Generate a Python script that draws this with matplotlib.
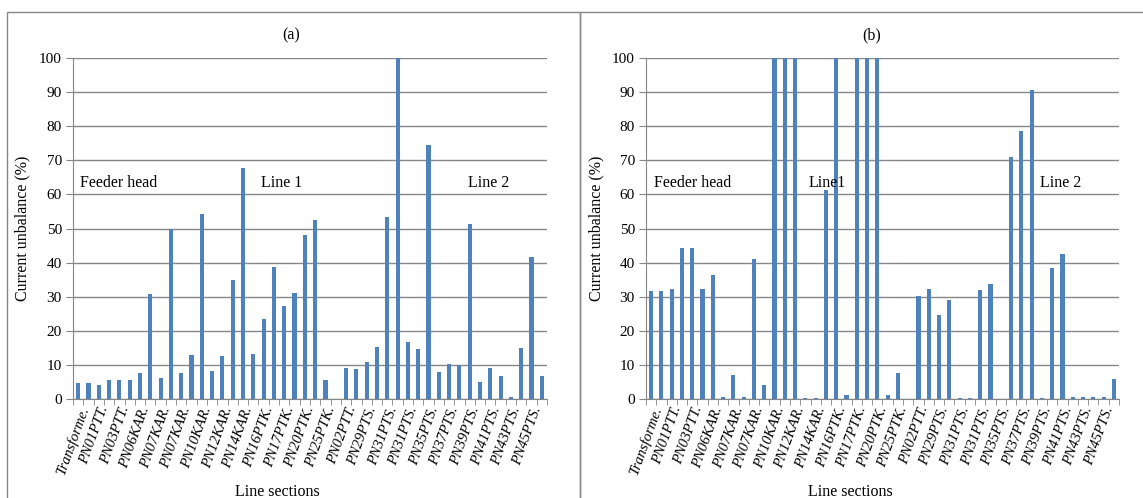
import matplotlib
matplotlib.use('Agg')
import matplotlib.pyplot as plt
from matplotlib.patches import Rectangle
import numpy as np

plt.rcParams['font.family'] = ['Liberation Serif', 'DejaVu Serif']

# shown tick labels (every second line section)
sections = ['Transforme.', 'PN01PTT.', 'PN03PTT.', 'PN06KAR.', 'PN07KAR.', 'PN07KAR.',
            'PN10KAR.', 'PN12KAR.', 'PN14KAR.', 'PN16PTK.', 'PN17PTK.', 'PN20PTK.',
            'PN25PTK.', 'PN02PTT.', 'PN29PTS.', 'PN31PTS.', 'PN31PTS.', 'PN35PTS.',
            'PN37PTS.', 'PN39PTS.', 'PN41PTS.', 'PN43PTS.', 'PN45PTS.']

# current unbalance (%) per line section, case (a)
unbalance_a = [4.6, 4.6, 4.1, 5.7, 5.7, 5.7, 7.5, 30.7, 6.2, 49.8,
               7.5, 13.0, 54.2, 8.3, 12.7, 34.8, 67.7, 13.3, 23.4, 38.7,
               27.3, 31.0, 48.0, 52.4, 5.7, 0.0, 9.2, 8.9, 10.8, 15.3,
               53.3, 100.0, 16.7, 14.8, 74.4, 7.8, 10.4, 10.0, 51.3, 5.1,
               9.2, 6.7, 0.7, 15.1, 41.5, 6.7]

# case (b)
unbalance_b = [31.7, 31.7, 32.4, 44.4, 44.4, 32.4, 36.3, 0.5, 6.9, 0.5,
               41.0, 4.0, 100.0, 100.0, 100.0, 0.2, 0.2, 61.4, 100.0, 1.3,
               100.0, 100.0, 100.0, 1.3, 7.5, 0.0, 30.1, 32.2, 24.5, 28.9,
               0.3, 0.3, 31.9, 33.7, 0.1, 71.1, 78.6, 90.6, 0.3, 38.3,
               42.5, 0.5, 0.5, 0.5, 0.5, 5.9]

panels = [
    ('(a)', unbalance_a, ['Feeder head', 'Line 1', 'Line 2']),
    ('(b)', unbalance_b, ['Feeder head', 'Line1', 'Line 2']),
]

W, H = 1143, 498
fig = plt.figure(figsize=(W / 100, H / 100), dpi=100)

# chart frames
fig.patches.append(Rectangle((7 / W, -0.1), (580 - 7) / W, 1.1 - 12 / H,
                             transform=fig.transFigure, fill=False,
                             edgecolor='#868686', linewidth=1.0))
fig.patches.append(Rectangle((580 / W, -0.1), 0.6, 1.1 - 12 / H,
                             transform=fig.transFigure, fill=False,
                             edgecolor='#868686', linewidth=1.0))

axes_left = [73, 646]
axes_right = [547, 1119]
text_pos = [[(80, 183), (261, 183), (468, 183)],
            [(654, 183), (809, 183), (1040, 183)]]
title_x = [291, 872]
xlabel_x = [277, 850]
ylabel_x = [22, 596]

for k, (title, vals, notes) in enumerate(panels):
    ax = fig.add_axes([axes_left[k] / W, 1 - 399 / H,
                       (axes_right[k] - axes_left[k]) / W, (399 - 58) / H])
    x = np.arange(len(vals))
    ax.bar(x, vals, width=0.4, color='#4F81BD', zorder=3)
    ax.set_xlim(-0.5, len(vals) - 0.5)
    ax.set_ylim(0, 100)
    ax.set_yticks(np.arange(0, 101, 10))
    ax.grid(axis='y', color='#868686', linewidth=1.0, zorder=0)
    for s in ['top', 'right']:
        ax.spines[s].set_visible(False)
    ax.spines['left'].set_color('#868686')
    ax.spines['bottom'].set_color('#868686')
    ax.tick_params(axis='y', length=5, color='#868686', labelsize=11, pad=3)
    ax.set_xticks(x[::2])
    ax.set_xticklabels(sections, rotation=70, ha='right', rotation_mode='anchor',
                       fontstyle='italic', fontsize=10.5)
    ax.tick_params(axis='x', length=0, pad=4)
    ax.set_xticks(np.arange(-0.5, len(vals)), minor=True)
    ax.tick_params(axis='x', which='minor', length=4, color='#868686')
    for txt, (px, py) in zip(notes, text_pos[k]):
        fig.text(px / W, 1 - py / H, txt, fontsize=11.5, ha='left', va='center')
    fig.text(title_x[k] / W, 1 - 35 / H, title, fontsize=11.5, ha='center', va='center')
    fig.text(xlabel_x[k] / W, 1 - 492 / H, 'Line sections', fontsize=11.5,
             ha='center', va='center')
    fig.text(ylabel_x[k] / W, 1 - 228 / H, 'Current unbalance (%)', fontsize=11.5,
             rotation=90, ha='center', va='center')

fig.savefig('out.png', dpi=100)
